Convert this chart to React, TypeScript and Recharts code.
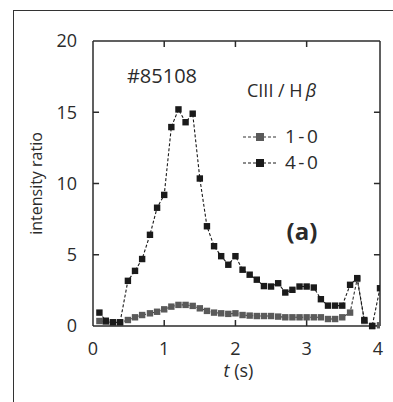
import React from 'react';
import { LineChart, Line, XAxis, YAxis, ReferenceLine, Label } from 'recharts';

// time (s) of each sample
const times = [
  0.09, 0.18, 0.28, 0.38, 0.49, 0.59, 0.69, 0.8, 0.9, 1.0, 1.1, 1.2, 1.3, 1.4,
  1.5, 1.6, 1.7, 1.8, 1.9, 2.0, 2.1, 2.2, 2.3, 2.4, 2.5, 2.6, 2.7, 2.8, 2.9,
  3.0, 3.1, 3.2, 3.3, 3.4, 3.5, 3.61, 3.71, 3.81, 3.92, 4.03,
];

// CIII / Hbeta, 1-0 band
const ratio10 = [
  0.35, 0.3, 0.25, 0.25, 0.42, 0.61, 0.77, 0.89, 1.0, 1.17, 1.36, 1.48, 1.48,
  1.41, 1.24, 1.06, 0.94, 0.89, 0.85, 0.89, 0.77, 0.73, 0.7, 0.7, 0.7, 0.66,
  0.61, 0.61, 0.61, 0.61, 0.61, 0.61, 0.49, 0.49, 0.61, 0.94, 3.3, 0.35, 0.0,
  0.05,
];

// CIII / Hbeta, 4-0 band
const ratio40 = [
  0.94, 0.37, 0.26, 0.26, 3.17, 3.87, 4.7, 6.4, 8.3, 9.2, 13.96, 15.2, 14.3,
  14.9, 10.35, 7.0, 5.6, 4.9, 4.3, 4.9, 3.95, 3.6, 3.25, 2.8, 2.77, 3.0, 2.35,
  2.54, 2.77, 2.77, 2.7, 1.88, 1.43, 1.43, 1.43, 2.89, 3.36, 0.42, 0.0, 2.65,
];

const xTicks = [0, 1, 2, 3, 4];
const yTicks = [0, 5, 10, 15, 20];
const X_MAX = 4.03;
const Y_MAX = 20;

const data = times.map((t, i) => ({ t, r10: ratio10[i], r40: ratio40[i] }));

const FONT = "'Open Sans', sans-serif";
const INK = '#2b2b2b';
// inward tick length, in data units (~6px)
const X_TICK_LEN = 0.42;
const Y_TICK_LEN = 0.085;

const squareDot = (color: string) => (props: any) => {
  const { cx, cy, key, index } = props;
  if (cx == null || cy == null) return <g key={key ?? index} />;
  return (
    <rect key={key ?? index} x={cx - 3.2} y={cy - 3.2} width={6.4} height={6.4} fill={color} />
  );
};

const App: React.FC = () => {
  return (
    <div style={{ position: 'absolute', left: 0, top: 0, width: 393, height: 402, background: '#fff', overflow: 'hidden' }}>
      <div
        style={{
          position: 'absolute',
          left: 13,
          top: 10,
          width: 420,
          height: 440,
          border: '1.5px solid #333',
        }}
      />
      <LineChart
        width={393}
        height={402}
        data={data}
        margin={{ top: 41, right: 13, bottom: 46, left: 0 }}
        style={{ position: 'absolute', left: 0, top: 0 }}
      >
        <XAxis
          dataKey='t'
          type='number'
          domain={[0, X_MAX]}
          ticks={xTicks}
          allowDataOverflow
          height={30}
          stroke={INK}
          strokeWidth={1.5}
          tickLine={false}
          tickMargin={10}
          tick={{ fill: INK, fontSize: 18, fontFamily: FONT }}
        >
          <Label
            content={({ viewBox }: any) => (
              <text
                x={viewBox.x + viewBox.width / 2 + 2}
                y={viewBox.y + 51}
                textAnchor='middle'
                fontSize={18}
                fontFamily={FONT}
                fill={INK}
              >
                <tspan fontStyle='italic'>t</tspan> (s)
              </text>
            )}
          />
        </XAxis>
        <YAxis
          type='number'
          domain={[0, Y_MAX]}
          ticks={yTicks}
          width={93}
          stroke={INK}
          strokeWidth={1.5}
          tickLine={false}
          tickMargin={10}
          tick={{ fill: INK, fontSize: 18, fontFamily: FONT }}
          label={{
            value: 'intensity ratio',
            angle: -90,
            position: 'insideLeft',
            offset: 36,
            fill: INK,
            fontSize: 16,
            fontFamily: FONT,
            style: { textAnchor: 'middle' },
          }}
        />
        {/* frame: top and right edges */}
        <ReferenceLine y={Y_MAX} stroke={INK} strokeWidth={1.5} ifOverflow='visible' />
        <ReferenceLine x={X_MAX} stroke={INK} strokeWidth={1.5} ifOverflow='visible' />
        {/* inward ticks on all four sides */}
        {xTicks.slice(1, -1).map((v) => (
          <ReferenceLine
            key={`xb${v}`}
            segment={[{ x: v, y: 0 }, { x: v, y: X_TICK_LEN }]}
            stroke={INK}
            strokeWidth={1.5}
          />
        ))}
        {xTicks.slice(1, -1).map((v) => (
          <ReferenceLine
            key={`xt${v}`}
            segment={[{ x: v, y: Y_MAX }, { x: v, y: Y_MAX - X_TICK_LEN }]}
            stroke={INK}
            strokeWidth={1.5}
          />
        ))}
        {yTicks.slice(1, -1).map((v) => (
          <ReferenceLine
            key={`yl${v}`}
            segment={[{ x: 0, y: v }, { x: Y_TICK_LEN, y: v }]}
            stroke={INK}
            strokeWidth={1.5}
          />
        ))}
        {yTicks.slice(1, -1).map((v) => (
          <ReferenceLine
            key={`yr${v}`}
            segment={[{ x: X_MAX, y: v }, { x: X_MAX - Y_TICK_LEN, y: v }]}
            stroke={INK}
            strokeWidth={1.5}
          />
        ))}
        <Line
          dataKey='r10'
          stroke='#333'
          strokeWidth={1.1}
          strokeDasharray='3 2'
          dot={squareDot('#5a5a5a')}
          isAnimationActive={false}
        />
        <Line
          dataKey='r40'
          stroke='#1a1a1a'
          strokeWidth={1.1}
          strokeDasharray='3 2'
          dot={squareDot('#1a1a1a')}
          isAnimationActive={false}
        />
      </LineChart>
      <svg
        width={393}
        height={402}
        style={{ position: 'absolute', left: 0, top: 0, pointerEvents: 'none' }}
      >
        <text x={162} y={83} textAnchor='middle' fontSize={20} fontFamily={FONT} fill={INK}>
          #85108
        </text>
        <text x={247} y={97} fontSize={18} fontFamily={FONT} fill={INK}>
          CIII / H<tspan fontStyle='italic' dx={3}>β</tspan>
        </text>
        <line x1={243} x2={276} y1={137} y2={137} stroke='#333' strokeWidth={1.1} strokeDasharray='3 2' />
        <rect x={256} y={133} width={8} height={8} fill='#5a5a5a' />
        <text x={285} y={143} fontSize={19} letterSpacing={2.5} fontFamily={FONT} fill={INK}>
          1-0
        </text>
        <line x1={243} x2={276} y1={163} y2={163} stroke='#1a1a1a' strokeWidth={1.1} strokeDasharray='3 2' />
        <rect x={256} y={159} width={8} height={8} fill='#1a1a1a' />
        <text x={285} y={169} fontSize={19} letterSpacing={2.5} fontFamily={FONT} fill={INK}>
          4-0
        </text>
        <text x={302} y={240} textAnchor='middle' fontSize={24} fontWeight='bold' fontFamily={FONT} fill={INK}>
          (a)
        </text>
      </svg>
    </div>
  );
};

export default App;
